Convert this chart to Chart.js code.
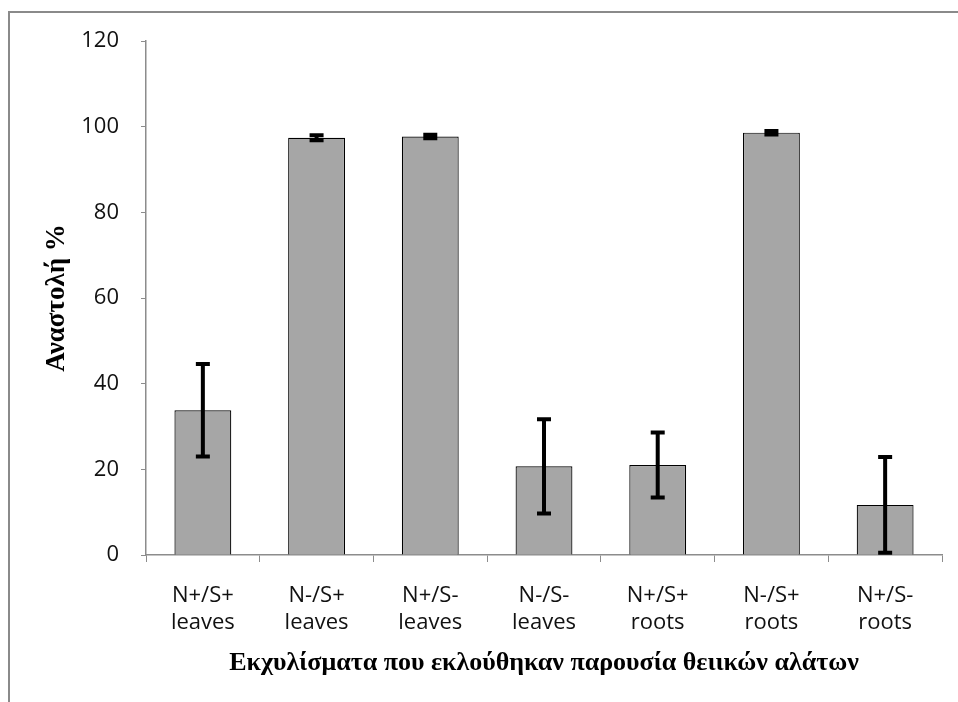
<!DOCTYPE html>
<html>
<head>
<meta charset="utf-8">
<script src="https://cdn.jsdelivr.net/npm/chart.js@4/dist/chart.umd.min.js"></script>
<style>
  html, body { margin: 0; padding: 0; background: #ffffff; }
  #wrap { position: relative; width: 958px; height: 702px; }
</style>
</head>
<body>
<div id="wrap"><canvas id="c" width="958" height="702"></canvas></div>
<script>
const categories = [
  ["N+/S+", "leaves"],
  ["N-/S+", "leaves"],
  ["N+/S-", "leaves"],
  ["N-/S-", "leaves"],
  ["N+/S+", "roots"],
  ["N-/S+", "roots"],
  ["N+/S-", "roots"]
];
const inhibition = [33.8, 97.4, 97.7, 20.7, 21.0, 98.6, 11.7];
const errors = [10.8, 0.6, 0.4, 11.0, 7.6, 0.4, 11.2];
const yTicks = [0, 20, 40, 60, 80, 100, 120];
const yTitle = "Αναστολή %";
const xTitle = "Εκχυλίσματα που εκλούθηκαν παρουσία θειικών αλάτων";

const frame = {
  id: 'frame',
  beforeDraw(chart) {
    const ctx = chart.ctx;
    ctx.save();
    ctx.fillStyle = '#ffffff';
    ctx.fillRect(0, 0, chart.width, chart.height);
    ctx.strokeStyle = '#8a8a8a';
    ctx.lineWidth = 2;
    ctx.beginPath();
    ctx.moveTo(9, chart.height);
    ctx.lineTo(9, 12);
    ctx.lineTo(chart.width, 12);
    ctx.stroke();
    ctx.restore();
  }
};

const errorBars = {
  id: 'errorBars',
  afterDatasetsDraw(chart) {
    const ctx = chart.ctx;
    const ys = chart.scales.y;
    const meta = chart.getDatasetMeta(0);
    ctx.save();
    ctx.strokeStyle = '#000000';
    ctx.lineWidth = 4;
    meta.data.forEach((bar, i) => {
      const v = inhibition[i], e = errors[i];
      const yTop = ys.getPixelForValue(v + e);
      const yBot = ys.getPixelForValue(v - e);
      const x = bar.x;
      ctx.beginPath();
      ctx.moveTo(x, yTop); ctx.lineTo(x, yBot);
      ctx.moveTo(x - 7, yTop); ctx.lineTo(x + 7, yTop);
      ctx.moveTo(x - 7, yBot); ctx.lineTo(x + 7, yBot);
      ctx.stroke();
    });
    ctx.restore();
  }
};

new Chart(document.getElementById('c'), {
  type: 'bar',
  data: {
    labels: categories,
    datasets: [{
      data: inhibition,
      backgroundColor: '#a6a6a6',
      borderColor: '#000000',
      borderWidth: 1.2,
      barPercentage: 0.5,
      categoryPercentage: 1.0
    }]
  },
  options: {
    responsive: false,
    animation: false,
    devicePixelRatio: 1,
    layout: { padding: { left: 20, right: 16, top: 41, bottom: 14 } },
    plugins: { legend: { display: false }, tooltip: { enabled: false } },
    scales: {
      x: {
        offset: true,
        afterFit(s) { s.height = 133; },
        grid: { display: true, drawOnChartArea: false, offset: true, tickLength: 7, color: '#8c8c8c' },
        border: { display: true, color: '#8c8c8c', width: 1.5 },
        ticks: { color: '#111111', font: { family: 'Open Sans', size: 22 }, padding: 21, maxRotation: 0, autoSkip: false },
        title: {
          display: true, text: xTitle, color: '#000000',
          font: { family: 'Liberation Serif', size: 26, weight: 'bold' },
          padding: { top: 9, bottom: 9 }
        }
      },
      y: {
        min: 0, max: 120,
        afterFit(s) { s.width = 126; },
        afterBuildTicks(s) { s.ticks = yTicks.map(v => ({ value: v })); },
        grid: { display: true, drawOnChartArea: false, tickLength: 5, color: '#8c8c8c' },
        border: { display: true, color: '#8c8c8c', width: 1.5 },
        ticks: { color: '#111111', font: { family: 'Open Sans', size: 22 }, padding: 22 },
        title: {
          display: true, text: yTitle, color: '#000000',
          font: { family: 'Liberation Serif', size: 27, weight: 'bold' },
          padding: { top: 21, bottom: 8 }
        }
      }
    }
  },
  plugins: [frame, errorBars]
});
</script>
</body>
</html>
